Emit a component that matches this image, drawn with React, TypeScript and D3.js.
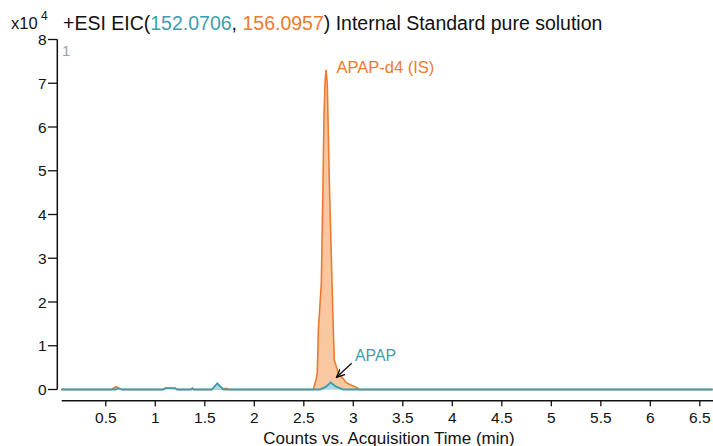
import React from "react";
import * as d3 from "d3";

const W = 713;
const H = 446;

// Internal standard APAP-d4 (m/z 156.0957), intensity x10^4 counts
const isTime = [0.05, 0.56, 0.59, 0.61, 0.63, 0.66, 1.08, 1.1, 1.2, 1.22, 1.57, 1.6, 1.72, 1.75, 2.596, 2.623, 2.636, 2.647, 2.677, 2.694, 2.704, 2.714, 2.724, 2.737, 2.744, 2.758, 2.785, 2.798, 2.808, 2.849, 2.933, 3.047, 3.06, 6.63];
const isValue = [0, 0, 0.05, 0.06, 0.02, 0, 0, 0.03, 0.03, 0, 0, 0.02, 0.02, 0, 0, 0.22, 0.38, 1.36, 2.43, 4.72, 6.24, 7.0, 7.31, 7.0, 6.24, 4.72, 2.43, 1.36, 0.67, 0.38, 0.15, 0.03, 0, 0];

// APAP (m/z 152.0706)
const apapTime = [0.05, 0.6, 0.63, 0.66, 1.08, 1.1, 1.2, 1.22, 1.36, 1.374, 1.39, 1.57, 1.626, 1.687, 2.664, 2.72, 2.772, 2.82, 2.899, 6.63];
const apapValue = [0, 0, 0.03, 0, 0, 0.03, 0.03, 0, 0, 0.03, 0, 0, 0.14, 0, 0, 0.06, 0.16, 0.07, 0, 0];

const yTicks = [0, 1, 2, 3, 4, 5, 6, 7, 8];
const xTicks = [0.5, 1, 1.5, 2, 2.5, 3, 3.5, 4, 4.5, 5, 5.5, 6, 6.5];

const ORANGE = "#EE7A2E";
const ORANGE_FILL = "#F9C7A0";
const TEAL = "#3C9DB2";
const TEAL_FILL = "#A9DCE8";
const FONT = "Liberation Sans, Arial, sans-serif";

export default function App() {
  const x = d3.scaleLinear().domain([0, 6.63]).range([56.3, 712.7]);
  const y = d3.scaleLinear().domain([0, 8]).range([389.5, 39.5]);

  const isData = isTime.map((t, i) => [t, isValue[i]] as [number, number]);
  const apData = apapTime.map((t, i) => [t, apapValue[i]] as [number, number]);

  const line = d3.line<[number, number]>().x((d) => x(d[0])).y((d) => y(d[1]));
  const area = d3
    .area<[number, number]>()
    .x((d) => x(d[0]))
    .y0(y(0))
    .y1((d) => y(d[1]));

  const axisY = 400.7;

  return (
    <svg
      width={W}
      height={H}
      style={{ position: "absolute", left: 0, top: 0, display: "block", background: "#fff" }}
      fontFamily={FONT}
    >
      <defs>
        <marker id="arr" viewBox="0 0 10 10" refX="9" refY="5" markerWidth="7" markerHeight="7" orient="auto-start-reverse">
          <path d="M0,1 L9,5 L0,9" fill="none" stroke="#111" strokeWidth="1.5" />
        </marker>
      </defs>

      {/* title */}
      <text x={11} y={29} fontSize={16.5} fill="#111">x10</text>
      <text x={41} y={20} fontSize={12} fill="#111">4</text>
      <text x={63} y={29.5} fontSize={19.5} fill="#111">
        <tspan>+ESI EIC(</tspan>
        <tspan fill={TEAL}>152.0706</tspan>
        <tspan>, </tspan>
        <tspan fill={ORANGE}>156.0957</tspan>
        <tspan>) Internal Standard pure solution</tspan>
      </text>

      {/* y axis */}
      <line x1={57.3} x2={57.3} y1={y(8)} y2={y(0)} stroke="#111" strokeWidth={1.5} />
      {yTicks.map((v) => (
        <g key={v}>
          <line x1={48} x2={57.3} y1={y(v)} y2={y(v)} stroke="#111" strokeWidth={1.3} />
          <text x={46.5} y={y(v)} dy="0.36em" textAnchor="end" fontSize={15.5} fill="#111">
            {v}
          </text>
        </g>
      ))}
      <text x={62} y={55.5} fontSize={15} fill="#a0a0a0">1</text>

      {/* x axis */}
      <line x1={61.7} x2={713} y1={axisY} y2={axisY} stroke="#111" strokeWidth={1.5} />
      {xTicks.map((v) => (
        <g key={v}>
          <line x1={x(v)} x2={x(v)} y1={axisY} y2={axisY + 5.5} stroke="#111" strokeWidth={1.3} />
          <text x={x(v)} y={417.5} dy="0.36em" textAnchor="middle" fontSize={15.5} fill="#111">
            {v}
          </text>
        </g>
      ))}
      <text x={389} y={443.5} textAnchor="middle" fontSize={17} fill="#111">
        Counts vs. Acquisition Time (min)
      </text>

      {/* traces */}
      <path d={area(isData) ?? ""} fill={ORANGE_FILL} />
      <path d={line(isData) ?? ""} fill="none" stroke={ORANGE} strokeWidth={1.6} />
      <path d={area(apData) ?? ""} fill={TEAL_FILL} />
      <path d={line(apData) ?? ""} fill="none" stroke={TEAL} strokeWidth={1.8} />

      {/* annotations */}
      <text x={336.5} y={73} fontSize={16.5} fill={ORANGE}>APAP-d4 (IS)</text>
      <text x={355} y={361} fontSize={15.8} fill={TEAL}>APAP</text>
      <line x1={351.7} y1={363.3} x2={336.5} y2={377.3} stroke="#111" strokeWidth={1.3} markerEnd="url(#arr)" />
    </svg>
  );
}
